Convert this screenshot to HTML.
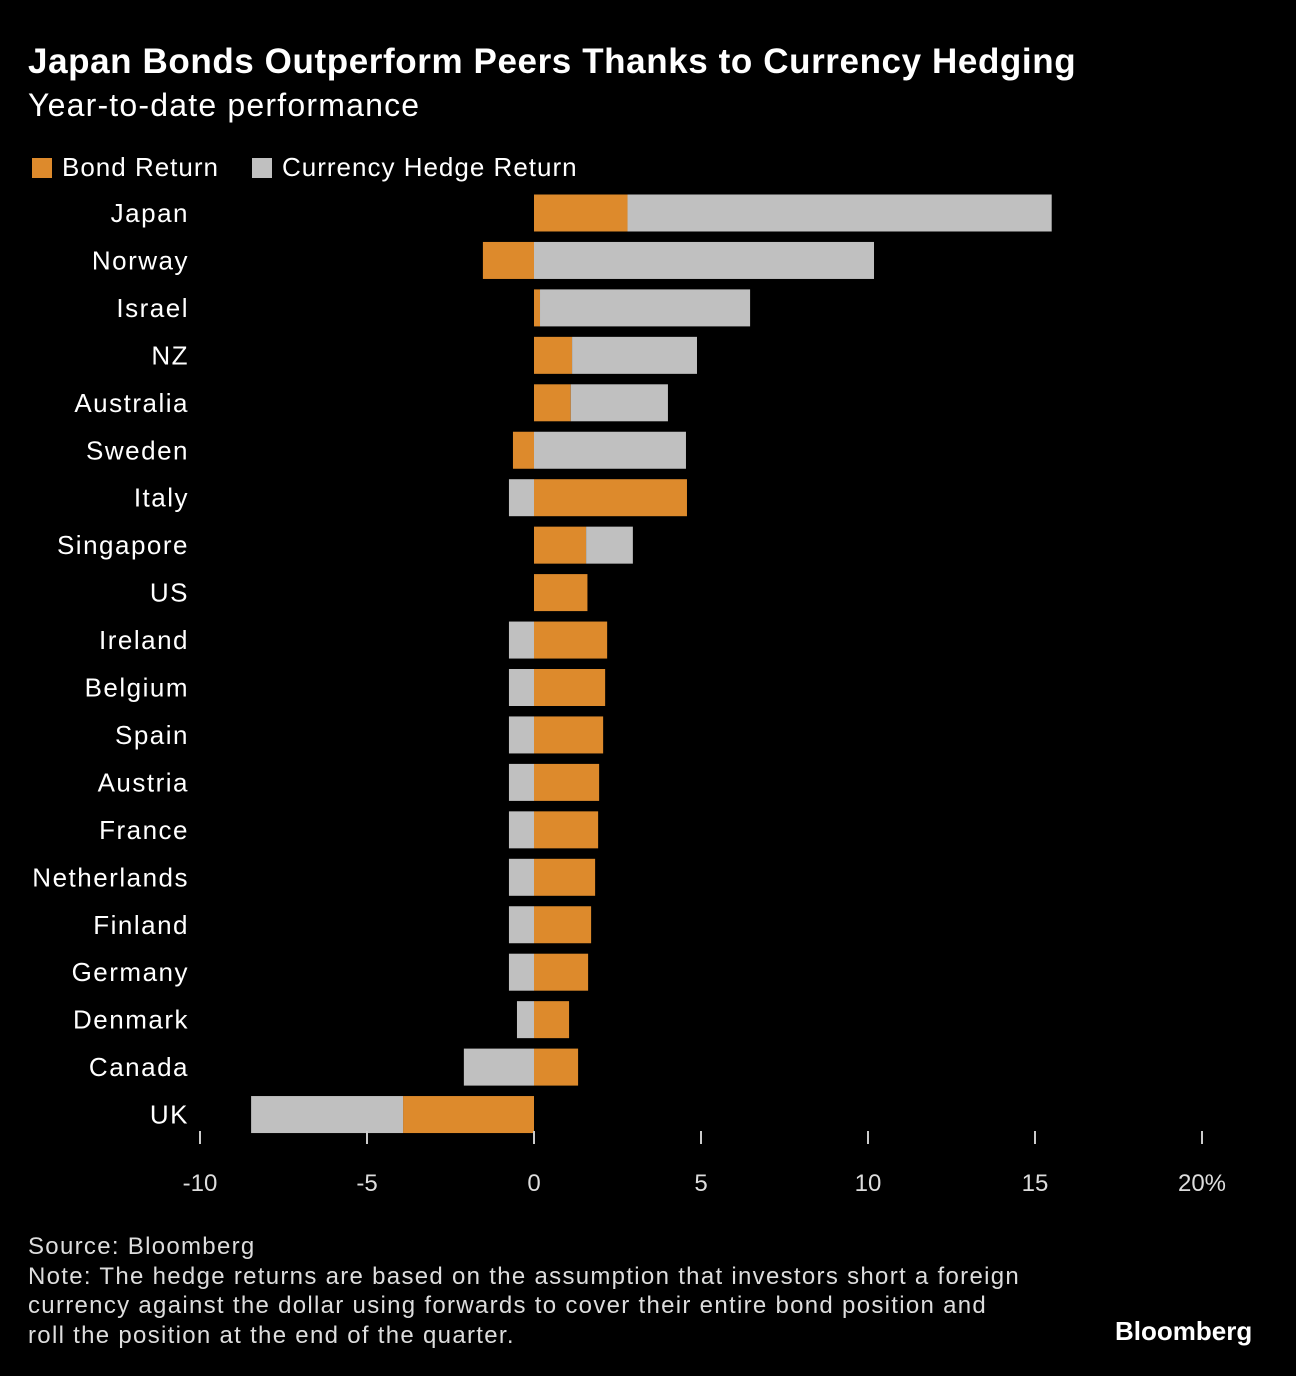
<!DOCTYPE html>
<html><head><meta charset="utf-8"><style>
body{margin:0;background:#000;width:1296px;height:1376px;overflow:hidden;font-family:"Liberation Sans",sans-serif;color:#fff}
.t{position:absolute;white-space:nowrap}
</style></head><body>
<div class="t" style="left:28px;top:42px;font-size:35px;font-weight:bold;letter-spacing:0.6px">Japan Bonds Outperform Peers Thanks to Currency Hedging</div>
<div class="t" style="left:28px;top:87px;font-size:32px;letter-spacing:1.2px">Year-to-date performance</div>
<div class="t" style="left:32px;top:152px;font-size:26px;letter-spacing:1px"><span style="display:inline-block;width:20px;height:20px;background:#dd8a2c;margin-right:10px;vertical-align:-2px"></span>Bond Return</div>
<div class="t" style="left:252px;top:152px;font-size:26px;letter-spacing:1px"><span style="display:inline-block;width:20px;height:20px;background:#c0c0c0;margin-right:10px;vertical-align:-2px"></span>Currency Hedge Return</div>
<svg id="chart" width="1296" height="1376" style="position:absolute;left:0;top:0"></svg>
<div class="t" style="left:28px;top:1232px;font-size:24px;line-height:29.5px;color:#ddd;letter-spacing:1.3px">Source: Bloomberg<br>Note: The hedge returns are based on the assumption that investors short a foreign<br>currency against the dollar using forwards to cover their entire bond position and<br>roll the position at the end of the quarter.</div>
<div class="t" style="left:1115px;top:1316px;font-size:26px;font-weight:bold">Bloomberg</div>
<script>
const categories=["Japan","Norway","Israel","NZ","Australia","Sweden","Italy","Singapore","US","Ireland","Belgium","Spain","Austria","France","Netherlands","Finland","Germany","Denmark","Canada","UK"];
const bondReturn=[2.8,-1.53,0.18,1.14,1.1,-0.63,4.58,1.56,1.6,2.19,2.13,2.07,1.95,1.92,1.83,1.71,1.62,1.05,1.32,-3.92];
const hedgeReturn=[12.7,10.18,6.29,3.74,2.91,4.55,-0.75,1.4,0,-0.75,-0.75,-0.75,-0.75,-0.75,-0.75,-0.75,-0.75,-0.51,-2.1,-4.55];
const ticks=[-10,-5,0,5,10,15,20];
const tickLabels=["-10","-5","0","5","10","15","20%"];
const svg=document.getElementById('chart');const NS='http://www.w3.org/2000/svg';
const x=v=>534+v*33.4;const y=i=>213+i*47.45;const bh=37;
function mk(t,a){const e=document.createElementNS(NS,t);for(const k in a)e.setAttribute(k,a[k]);svg.appendChild(e);return e;}
categories.forEach((c,i)=>{
 const l=mk('text',{x:189,y:y(i)+9,'text-anchor':'end','font-size':26,'letter-spacing':'1.5',fill:'#fff','font-family':'Liberation Sans, sans-serif'});l.textContent=c;
 
 
 let pos=0,neg=0;
 [[bondReturn[i],'#dd8a2c','bond-bar'],[hedgeReturn[i],'#c0c0c0','hedge-bar']].forEach(([v,col,n])=>{
  if(!v)return;let a,b;
  if(v>0){a=pos;b=pos+v;pos=b;}else{a=neg+v;b=neg;neg=a;}
  const r=mk('rect',{x:x(a),y:y(i)-bh/2,width:x(b)-x(a),height:bh,fill:col});
  
  
 });
});
ticks.forEach((t,i)=>{
 const tk=mk('line',{x1:x(t),x2:x(t),y1:1131,y2:1144,stroke:'#ccc','stroke-width':2});
 
 
 const tl=mk('text',{x:x(t),y:1191,'text-anchor':'middle','font-size':24,fill:'#ddd','font-family':'Liberation Sans, sans-serif'});tl.textContent=tickLabels[i];
 
 
});
</script>
</body></html>
